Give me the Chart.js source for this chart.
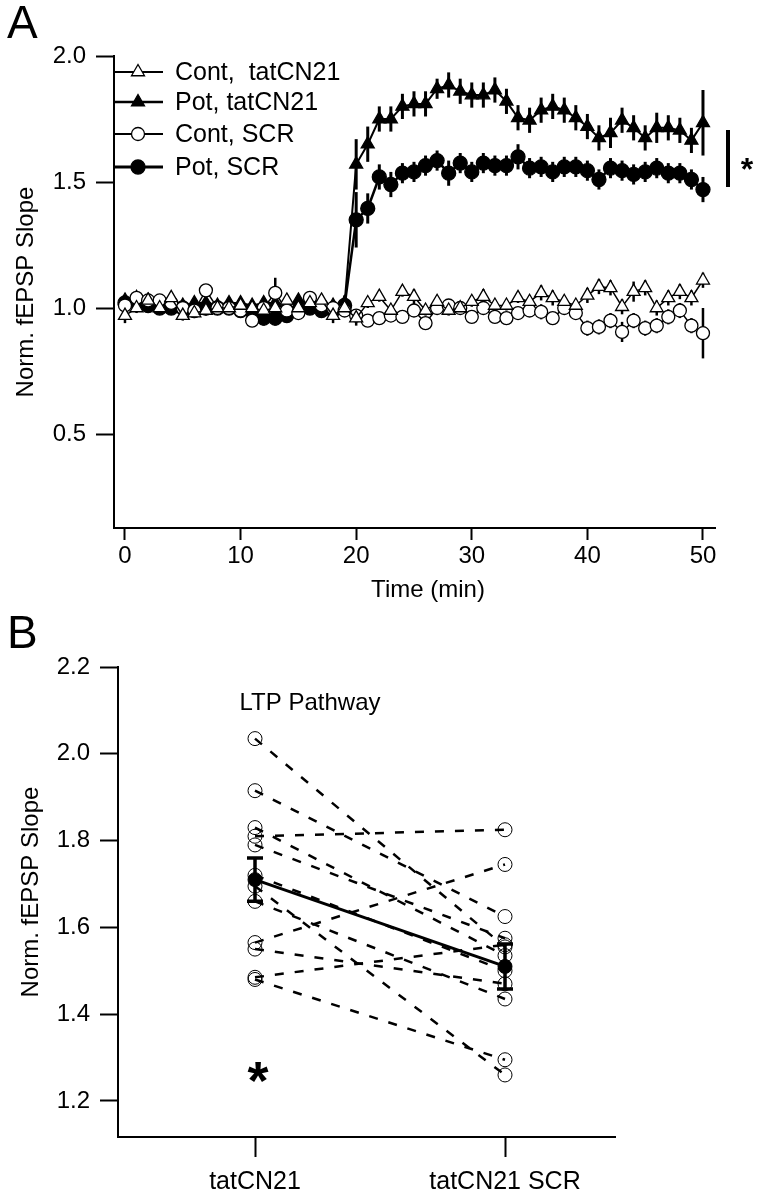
<!DOCTYPE html>
<html>
<head>
<meta charset="utf-8">
<script src="https://cdn.jsdelivr.net/npm/chart.js@4.4.1/dist/chart.umd.min.js"></script>
<style>
  html, body { margin: 0; padding: 0; background: #fff; }
  #wrap { position: relative; width: 761px; height: 1199px; }
  canvas { position: absolute; left: 0; }
  #chartA { top: 0; }
  #chartB { top: 610px; }
</style>
</head>
<body>
<div id="wrap">
  <canvas id="chartA" width="761" height="610"></canvas>
  <canvas id="chartB" width="761" height="589"></canvas>
</div>
<script>
// ---- panel A data (time course) ----
const time = [0,1,2,3,4,5,6,7,8,9,10,11,12,13,14,15,16,17,18,19,20,21,22,23,24,25,
  26,27,28,29,30,31,32,33,34,35,36,37,38,39,40,41,42,43,44,45,46,47,48,49,50];
const timeTicks = [0, 10, 20, 30, 40, 50];
const slopeTicksA = [0.5, 1.0, 1.5, 2.0];

const contTat = [0.97,1.00,1.03,1.00,1.04,0.97,0.98,0.99,1.00,1.00,1.01,1.00,0.99,1.00,1.03,1.00,1.02,1.03,0.97,1.00,
  0.96,1.02,1.045,0.99,1.065,1.045,0.99,1.025,0.99,1.00,1.025,1.045,1.01,1.01,1.04,1.025,1.06,1.04,1.025,1.01,
  1.05,1.085,1.08,1.005,1.065,1.08,1.00,1.04,1.065,1.04,1.11];
const contTatErr = [0.03,0.02,0.02,0.02,0.02,0.02,0.02,0.02,0.02,0.02,0.02,0.02,0.02,0.03,0.02,0.02,0.02,0.02,0.03,0.02,
  0.03,0.02,0.02,0.02,0.02,0.03,0.02,0.02,0.02,0.02,0.02,0.03,0.02,0.02,0.02,0.02,0.03,0.03,0.02,0.02,
  0.03,0.03,0.03,0.03,0.04,0.03,0.03,0.03,0.03,0.03,0.03];

const potTat = [1.03,1.04,1.03,1.02,1.03,1.01,1.02,1.02,1.01,1.02,1.02,1.01,1.02,1.02,1.01,1.03,1.02,1.02,1.01,1.02,
  1.57,1.65,1.75,1.75,1.80,1.81,1.81,1.87,1.885,1.86,1.845,1.845,1.865,1.82,1.755,1.745,1.785,1.80,1.785,1.755,
  1.72,1.675,1.695,1.745,1.715,1.675,1.715,1.715,1.705,1.665,1.735];
const potTatErr = [0.02,0.02,0.02,0.02,0.02,0.02,0.02,0.02,0.02,0.02,0.02,0.02,0.02,0.02,0.02,0.02,0.02,0.02,0.02,0.03,
  0.10,0.07,0.05,0.05,0.05,0.05,0.05,0.04,0.05,0.05,0.05,0.05,0.05,0.05,0.05,0.05,0.05,0.05,0.05,0.05,
  0.05,0.05,0.06,0.05,0.05,0.05,0.06,0.05,0.05,0.05,0.13];

const contScr = [1.01,1.04,1.03,1.03,1.02,1.00,0.99,1.07,1.00,1.00,0.99,0.95,1.00,1.06,0.99,0.98,1.04,1.01,1.00,0.99,
  0.97,0.95,0.96,0.97,0.965,0.99,0.94,1.00,1.01,1.00,0.965,1.00,0.965,0.96,0.98,0.99,0.985,0.96,1.00,0.98,
  0.92,0.925,0.95,0.905,0.95,0.92,0.93,0.965,0.99,0.93,0.90];
const contScrErr = [0.02,0.02,0.02,0.02,0.02,0.02,0.02,0.02,0.02,0.02,0.02,0.02,0.02,0.06,0.02,0.02,0.02,0.02,0.02,0.02,
  0.02,0.02,0.02,0.02,0.02,0.02,0.02,0.02,0.02,0.02,0.02,0.02,0.02,0.02,0.02,0.02,0.03,0.02,0.02,0.02,
  0.03,0.03,0.03,0.04,0.03,0.03,0.03,0.03,0.03,0.03,0.10];

const potScr = [1.02,1.02,1.01,1.00,1.00,1.00,0.99,1.00,1.00,1.00,0.99,0.99,0.96,0.96,0.97,0.99,1.00,0.99,0.99,1.01,
  1.35,1.395,1.52,1.49,1.535,1.54,1.565,1.585,1.535,1.575,1.54,1.575,1.565,1.565,1.60,1.555,1.56,1.54,1.56,1.56,
  1.545,1.51,1.555,1.545,1.53,1.54,1.555,1.535,1.535,1.51,1.47];
const potScrErr = [0.02,0.02,0.02,0.02,0.02,0.02,0.02,0.02,0.02,0.02,0.02,0.02,0.03,0.03,0.02,0.02,0.02,0.02,0.02,0.03,
  0.11,0.06,0.05,0.05,0.04,0.04,0.04,0.04,0.05,0.04,0.04,0.04,0.04,0.04,0.05,0.04,0.04,0.04,0.04,0.04,
  0.04,0.04,0.04,0.04,0.04,0.04,0.04,0.04,0.04,0.04,0.05];

// ---- panel B data (individual slices) ----
const groups = ['tatCN21', 'tatCN21 SCR'];
const slopeTicksB = [1.2, 1.4, 1.6, 1.8, 2.0, 2.2];
const tatSlices = [2.035, 1.915, 1.83, 1.81, 1.79, 1.72, 1.695, 1.66, 1.565, 1.55, 1.485, 1.48];
const scrSlices = [1.555, 1.625, 1.535, 1.825, 1.575, 1.50, 1.26, 1.435, 1.745, 1.47, 1.56, 1.295];
const groupMean = [1.71, 1.51];
const groupSem = [0.05, 0.052];

const family = '"Liberation Sans", Arial, Helvetica, sans-serif';

function series(label, values, err, style, fill, radius, lineW) {
  return {
    label: label,
    data: values.map((v, i) => ({ x: time[i], y: v })),
    err: err,
    showLine: true,
    borderColor: '#000',
    borderWidth: lineW,
    pointStyle: style,
    pointRadius: radius,
    pointBackgroundColor: fill,
    pointBorderColor: '#000',
    pointBorderWidth: 1.3,
    clip: false
  };
}

const datasetsA = [
  series('Cont,  tatCN21', contTat, contTatErr, 'triangle', '#fff', 7.5, 1.5),
  series('Cont, SCR', contScr, contScrErr, 'circle', '#fff', 6.5, 1.5),
  series('Pot, tatCN21', potTat, potTatErr, 'triangle', '#000', 7.5, 2),
  series('Pot, SCR', potScr, potScrErr, 'circle', '#000', 7, 2.5)
];
const legendOrder = [0, 2, 1, 3];

// error bars drawn under the markers
const errorBarsA = {
  id: 'errorBarsA',
  beforeDatasetsDraw(chart) {
    const { ctx, scales: { x, y } } = chart;
    ctx.save();
    ctx.strokeStyle = '#000';
    chart.data.datasets.forEach(ds => {
      ctx.lineWidth = ds.pointBackgroundColor === '#000' ? 3 : 2.5;
      ds.data.forEach((p, i) => {
        const px = x.getPixelForValue(p.x);
        ctx.beginPath();
        ctx.moveTo(px, y.getPixelForValue(p.y - ds.err[i]));
        ctx.lineTo(px, y.getPixelForValue(p.y + ds.err[i]));
        ctx.stroke();
      });
    });
    ctx.restore();
  }
};

const decoA = {
  id: 'decoA',
  afterDraw(chart) {
    const ctx = chart.ctx;
    ctx.save();
    ctx.fillStyle = '#000';
    ctx.font = '46px ' + family;
    ctx.textBaseline = 'alphabetic';
    ctx.fillText('A', 7, 38);

    ctx.font = '24px ' + family;
    ctx.save();
    ctx.translate(33, 292);
    ctx.rotate(-Math.PI / 2);
    ctx.textAlign = 'center';
    ctx.fillText('Norm. fEPSP Slope', 0, 0);
    ctx.restore();

    ctx.textAlign = 'center';
    ctx.textBaseline = 'middle';
    ctx.fillText('Time (min)', 428, 590);

    // legend
    const rows = [72, 102, 134, 167];
    legendOrder.forEach((di, k) => {
      const ds = chart.data.datasets[di];
      const yy = rows[k];
      ctx.strokeStyle = '#000';
      ctx.lineWidth = ds.borderWidth + 0.5;
      ctx.beginPath();
      ctx.moveTo(113, yy);
      ctx.lineTo(163, yy);
      ctx.stroke();
      ctx.fillStyle = ds.pointBackgroundColor;
      ctx.lineWidth = 1.3;
      Chart.helpers.drawPoint(ctx, { pointStyle: ds.pointStyle, radius: ds.pointRadius, borderWidth: 1.3, rotation: 0 }, 138, yy);
      ctx.fillStyle = '#000';
      ctx.font = '25px ' + family;
      ctx.textAlign = 'left';
      ctx.textBaseline = 'middle';
      ctx.fillText(ds.label, 175, yy + 1);
    });

    // significance marker
    ctx.fillRect(726, 130, 4, 57);
    ctx.font = 'bold 32px ' + family;
    ctx.textAlign = 'center';
    ctx.textBaseline = 'alphabetic';
    ctx.fillText('*', 747, 180);
    ctx.restore();
  }
};

new Chart(document.getElementById('chartA'), {
  type: 'scatter',
  data: { datasets: datasetsA },
  options: {
    responsive: false,
    animation: false,
    events: [],
    layout: { padding: { top: 56, right: 46, bottom: 0, left: 0 } },
    plugins: { legend: { display: false }, tooltip: { enabled: false } },
    scales: {
      x: {
        type: 'linear', min: -0.95, max: 51.04,
        afterBuildTicks: s => { s.ticks = timeTicks.map(v => ({ value: v })); },
        afterFit: s => { s.height = 82; },
        grid: { drawOnChartArea: false, tickLength: 12, tickWidth: 2, tickColor: '#000' },
        border: { color: '#000', width: 2 },
        ticks: { color: '#000', font: { family: family, size: 24 }, padding: 2, maxRotation: 0 }
      },
      y: {
        type: 'linear', min: 0.127, max: 2.0,
        afterBuildTicks: s => { s.ticks = slopeTicksA.map(v => ({ value: v })); },
        afterFit: s => { s.width = 114; },
        grid: { drawOnChartArea: false, tickLength: 18, tickWidth: 2, tickColor: '#000' },
        border: { color: '#000', width: 2 },
        ticks: { color: '#000', font: { family: family, size: 24 }, padding: 10, callback: v => v.toFixed(1) }
      }
    }
  },
  plugins: [errorBarsA, decoA]
});

// ---- panel B ----
const datasetsB = [{
  label: 'mean',
  data: groupMean.map((v, i) => ({ x: i, y: v })),
  err: groupSem,
  showLine: true,
  borderColor: '#000',
  borderWidth: 3,
  pointStyle: 'circle',
  pointRadius: 7,
  pointBackgroundColor: '#000',
  pointBorderColor: '#000',
  pointBorderWidth: 1,
  clip: false
}];
tatSlices.forEach((v, i) => {
  datasetsB.push({
    label: 'slice ' + (i + 1),
    data: [{ x: 0, y: v }, { x: 1, y: scrSlices[i] }],
    showLine: true,
    borderColor: '#000',
    borderWidth: 2.5,
    borderDash: [9, 11],
    pointStyle: 'circle',
    pointRadius: 7,
    pointBackgroundColor: 'rgba(0,0,0,0)',
    pointBorderColor: '#000',
    pointBorderWidth: 1,
    clip: false
  });
});

const decoB = {
  id: 'decoB',
  afterDatasetsDraw(chart) {
    const { ctx, scales: { x, y } } = chart;
    const ds = chart.data.datasets[0];
    ctx.save();
    ctx.strokeStyle = '#000';
    ctx.lineWidth = 3.5;
    ds.data.forEach((p, i) => {
      const px = x.getPixelForValue(p.x);
      const top = y.getPixelForValue(p.y + ds.err[i]);
      const bot = y.getPixelForValue(p.y - ds.err[i]);
      ctx.beginPath();
      ctx.moveTo(px, top); ctx.lineTo(px, bot);
      ctx.moveTo(px - 8, top); ctx.lineTo(px + 8, top);
      ctx.moveTo(px - 8, bot); ctx.lineTo(px + 8, bot);
      ctx.stroke();
    });
    ctx.restore();
  },
  afterDraw(chart) {
    const ctx = chart.ctx;
    ctx.save();
    ctx.fillStyle = '#000';
    ctx.font = '46px ' + family;
    ctx.textBaseline = 'alphabetic';
    ctx.fillText('B', 7, 38);

    ctx.font = '24px ' + family;
    ctx.save();
    ctx.translate(38, 282);
    ctx.rotate(-Math.PI / 2);
    ctx.textAlign = 'center';
    ctx.fillText('Norm. fEPSP Slope', 0, 0);
    ctx.restore();

    ctx.textAlign = 'center';
    ctx.textBaseline = 'middle';
    ctx.fillText('LTP Pathway', 310, 93);

    ctx.font = 'bold 54px ' + family;
    ctx.textBaseline = 'alphabetic';
    ctx.fillText('*', 258, 489);
    ctx.restore();
  }
};

new Chart(document.getElementById('chartB'), {
  type: 'scatter',
  data: { datasets: datasetsB },
  options: {
    responsive: false,
    animation: false,
    events: [],
    layout: { padding: { top: 57, right: 146, bottom: 0, left: 0 } },
    plugins: { legend: { display: false }, tooltip: { enabled: false } },
    scales: {
      x: {
        type: 'linear', min: -0.548, max: 1.44,
        afterBuildTicks: s => { s.ticks = groups.map((g, i) => ({ value: i })); },
        afterFit: s => { s.height = 62; },
        grid: { drawOnChartArea: false, tickLength: 20, tickWidth: 2, tickColor: '#000' },
        border: { color: '#000', width: 2 },
        ticks: { color: '#000', font: { family: family, size: 25 }, padding: 10, maxRotation: 0,
                 callback: v => groups[v] }
      },
      y: {
        type: 'linear', min: 1.117, max: 2.2,
        afterBuildTicks: s => { s.ticks = slopeTicksB.map(v => ({ value: v })); },
        afterFit: s => { s.width = 118; },
        grid: { drawOnChartArea: false, tickLength: 18, tickWidth: 2, tickColor: '#000' },
        border: { color: '#000', width: 2 },
        ticks: { color: '#000', font: { family: family, size: 24 }, padding: 10, callback: v => v.toFixed(1) }
      }
    }
  },
  plugins: [decoB]
});
</script>
</body>
</html>
